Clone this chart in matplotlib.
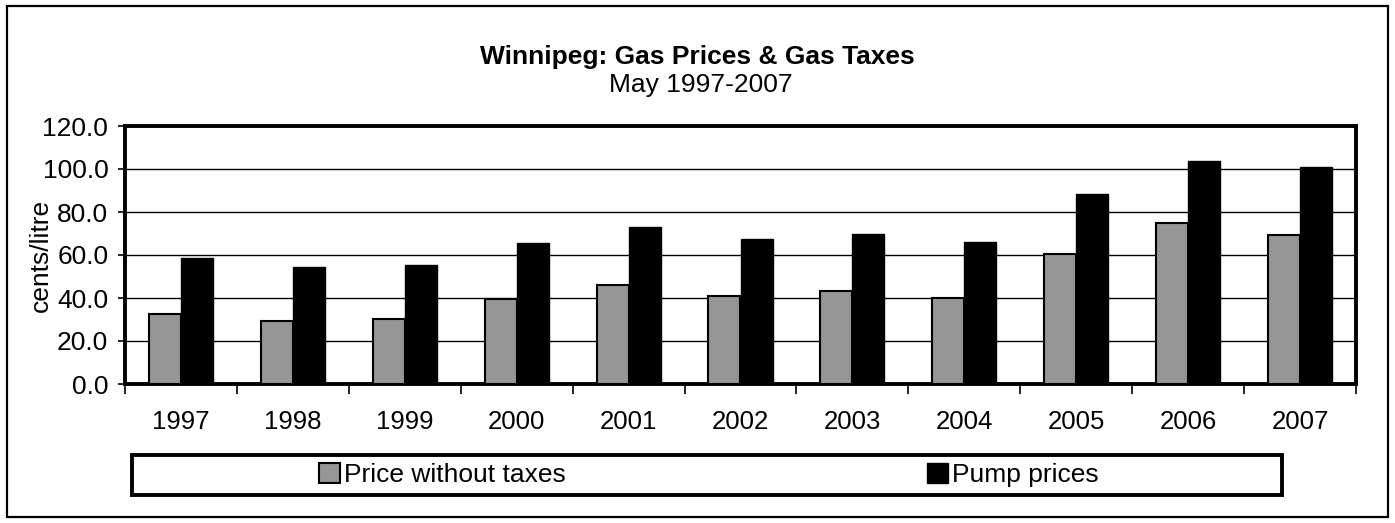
import numpy as np
import matplotlib
matplotlib.use("Agg")
import matplotlib.pyplot as plt
from matplotlib.patches import Rectangle, Patch

plt.rcParams['font.family'] = ['Liberation Sans', 'DejaVu Sans']

years = ['1997', '1998', '1999', '2000', '2001', '2002', '2003', '2004', '2005', '2006', '2007']
no_tax = [32.6, 29.2, 30.1, 39.7, 46.2, 41.1, 43.3, 40.0, 60.6, 74.9, 69.3]
pump = [58.4, 54.5, 55.4, 65.4, 72.8, 67.5, 69.8, 66.1, 88.2, 103.6, 101.1]
yticks = [0, 20, 40, 60, 80, 100, 120]

W, H = 1395, 523
fs = 19
fig = plt.figure(figsize=(W / 100, H / 100), dpi=100)

# outer frame
fig.patches.append(Rectangle((7 / W, 6 / H), 1381 / W, 511 / H, transform=fig.transFigure,
                             fill=False, edgecolor='black', linewidth=1.6))

ax = fig.add_axes([125 / W, 1 - 384 / H, (1356 - 125) / W, (384 - 126) / H])
x = np.arange(len(years))
bw = 0.286
ax.bar(x - bw / 2, no_tax, bw, color='#969696', edgecolor='black', linewidth=1.5, zorder=3)
ax.bar(x + bw / 2, pump, bw, color='black', edgecolor='black', linewidth=1.0, zorder=3)

ax.set_xlim(-0.5, len(years) - 0.5)
ax.set_ylim(0, 120)
ax.set_yticks(yticks)
ax.set_yticklabels(['%.1f' % v for v in yticks], fontsize=fs)
ax.yaxis.grid(True, color='black', linewidth=1.0, zorder=0)

ax.set_xticks(np.arange(-0.5, len(years), 1))
ax.set_xticklabels([])
ax.set_xticks(x, minor=True)
ax.set_xticklabels(years, minor=True, fontsize=18.5)
ax.tick_params(axis='x', which='major', direction='out', length=7, width=1.2)
ax.tick_params(axis='x', which='minor', length=0, pad=19)
ax.tick_params(axis='y', direction='out', length=5, width=1.2, pad=7)
for s in ax.spines.values():
    s.set_linewidth(2.8)

ax.set_ylabel('cents/litre', fontsize=fs, va='center')
ax.yaxis.set_label_coords((41 - 125) / 1231, 0.5)

fig.text(697 / W, 1 - 57 / H, 'Winnipeg: Gas Prices & Gas Taxes', ha='center', va='center',
         fontsize=fs, fontweight='bold')
fig.text(701 / W, 1 - 85 / H, 'May 1997-2007', ha='center', va='center', fontsize=fs)

# legend box
fig.patches.append(Rectangle((132 / W, 1 - 495 / H), 1150 / W, 40 / H, transform=fig.transFigure,
                             fill=False, edgecolor='black', linewidth=2.8))
handles = [Patch(facecolor='#969696', edgecolor='black', linewidth=1.5),
           Patch(facecolor='black', edgecolor='black')]
fig.legend(handles, ['Price without taxes', 'Pump prices'], loc='center',
           bbox_to_anchor=(709 / W, 1 - 475 / H), ncol=2, frameon=False, fontsize=fs,
           handlelength=0.8, handleheight=0.8, handletextpad=0.15, columnspacing=13.7)

fig.savefig('out.png', dpi=100)
